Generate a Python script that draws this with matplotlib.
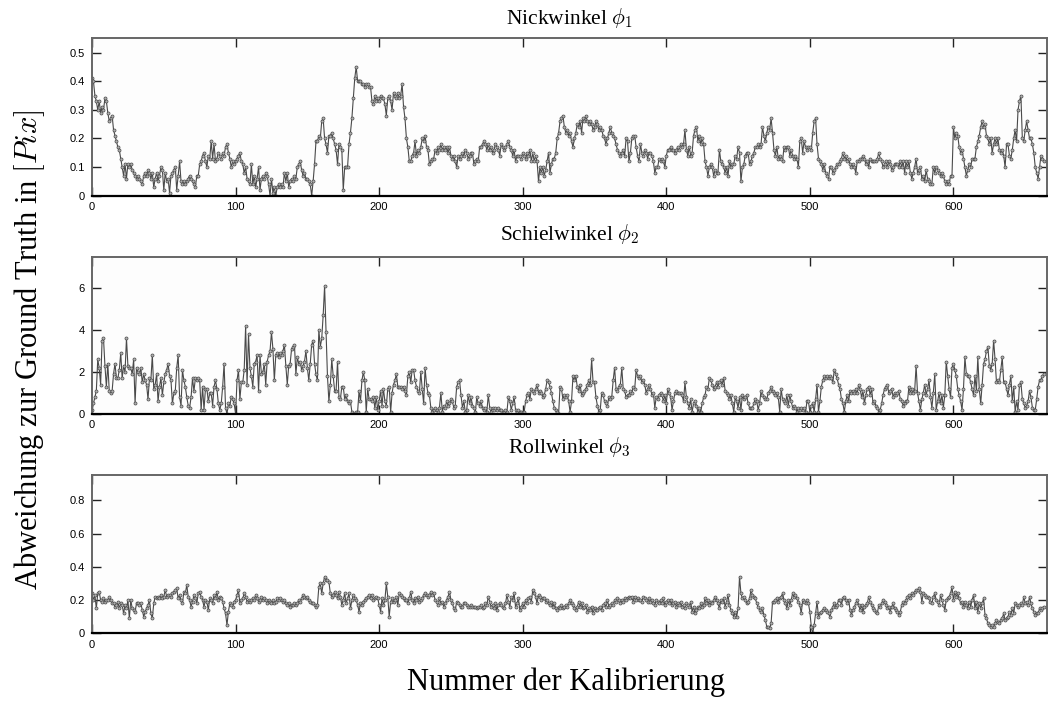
import numpy as np
import matplotlib
matplotlib.use("Agg")
from matplotlib import pyplot as plt

# Abweichung je Kalibrierung (Index 0..663)
nick = [
    0.41, 0.40, 0.35, 0.33, 0.30, 0.33, 0.29, 0.31, 0.30, 0.34,
    0.33, 0.29, 0.26, 0.27, 0.28, 0.23, 0.21, 0.19, 0.17, 0.16,
    0.13, 0.10, 0.07, 0.11, 0.06, 0.11, 0.10, 0.11, 0.09, 0.08,
    0.07, 0.06, 0.07, 0.06, 0.05, 0.04, 0.07, 0.08, 0.07, 0.09,
    0.08, 0.06, 0.08, 0.03, 0.06, 0.08, 0.05, 0.07, 0.10, 0.09,
    0.02, 0.08, 0.05, 0.06, 0.01, 0.07, 0.08, 0.09, 0.10, 0.02,
    0.07, 0.12, 0.05, 0.04, 0.05, 0.04, 0.05, 0.06, 0.07, 0.06,
    0.05, 0.04, 0.03, 0.07, 0.07, 0.11, 0.12, 0.14, 0.15, 0.12,
    0.10, 0.14, 0.13, 0.19, 0.13, 0.18, 0.12, 0.13, 0.15, 0.14,
    0.13, 0.15, 0.14, 0.17, 0.18, 0.15, 0.13, 0.10, 0.12, 0.11,
    0.12, 0.13, 0.14, 0.15, 0.12, 0.11, 0.08, 0.10, 0.06, 0.05,
    0.04, 0.11, 0.04, 0.07, 0.03, 0.06, 0.10, 0.02, 0.06, 0.07,
    0.06, 0.08, 0.07, 0.04, 0.00, 0.06, 0.01, 0.03, 0.00, 0.03,
    0.04, 0.03, 0.04, 0.03, 0.08, 0.05, 0.08, 0.03, 0.05, 0.06,
    0.05, 0.07, 0.06, 0.10, 0.11, 0.12, 0.09, 0.07, 0.08, 0.06,
    0.06, 0.05, 0.04, 0.00, 0.05, 0.11, 0.19, 0.19, 0.21, 0.20,
    0.26, 0.27, 0.20, 0.18, 0.15, 0.21, 0.21, 0.22, 0.20, 0.18,
    0.16, 0.11, 0.18, 0.17, 0.16, 0.02, 0.10, 0.10, 0.10, 0.18,
    0.22, 0.27, 0.34, 0.41, 0.45, 0.40, 0.40, 0.40, 0.39, 0.39,
    0.38, 0.39, 0.39, 0.38, 0.38, 0.33, 0.32, 0.35, 0.33, 0.34,
    0.33, 0.35, 0.34, 0.34, 0.32, 0.28, 0.34, 0.35, 0.33, 0.30,
    0.36, 0.35, 0.34, 0.36, 0.34, 0.35, 0.39, 0.31, 0.27, 0.20,
    0.17, 0.12, 0.12, 0.14, 0.15, 0.19, 0.14, 0.16, 0.15, 0.17,
    0.20, 0.19, 0.21, 0.17, 0.16, 0.11, 0.12, 0.13, 0.13, 0.16,
    0.15, 0.17, 0.16, 0.18, 0.16, 0.17, 0.16, 0.17, 0.15, 0.17,
    0.14, 0.13, 0.14, 0.12, 0.10, 0.14, 0.13, 0.14, 0.15, 0.14,
    0.16, 0.15, 0.13, 0.14, 0.15, 0.15, 0.11, 0.12, 0.13, 0.12,
    0.17, 0.17, 0.18, 0.19, 0.18, 0.16, 0.18, 0.16, 0.17, 0.15,
    0.16, 0.18, 0.17, 0.16, 0.14, 0.18, 0.17, 0.16, 0.17, 0.18,
    0.19, 0.17, 0.16, 0.14, 0.16, 0.12, 0.14, 0.14, 0.14, 0.13,
    0.15, 0.14, 0.13, 0.15, 0.14, 0.16, 0.12, 0.15, 0.12, 0.14,
    0.12, 0.05, 0.10, 0.08, 0.10, 0.07, 0.09, 0.12, 0.15, 0.08,
    0.11, 0.13, 0.13, 0.15, 0.20, 0.22, 0.26, 0.27, 0.28, 0.24,
    0.22, 0.23, 0.21, 0.22, 0.19, 0.17, 0.20, 0.22, 0.25, 0.24,
    0.26, 0.22, 0.27, 0.26, 0.28, 0.26, 0.25, 0.26, 0.25, 0.23,
    0.24, 0.26, 0.25, 0.23, 0.24, 0.23, 0.21, 0.20, 0.18, 0.20,
    0.22, 0.24, 0.22, 0.21, 0.20, 0.18, 0.16, 0.15, 0.14, 0.15,
    0.16, 0.14, 0.20, 0.19, 0.12, 0.15, 0.20, 0.21, 0.21, 0.17,
    0.14, 0.12, 0.18, 0.15, 0.14, 0.16, 0.15, 0.13, 0.15, 0.15,
    0.14, 0.12, 0.08, 0.10, 0.10, 0.13, 0.12, 0.13, 0.12, 0.10,
    0.14, 0.16, 0.16, 0.17, 0.16, 0.16, 0.15, 0.16, 0.17, 0.16,
    0.18, 0.17, 0.18, 0.23, 0.16, 0.14, 0.17, 0.14, 0.15, 0.21,
    0.23, 0.24, 0.19, 0.21, 0.18, 0.20, 0.18, 0.12, 0.10, 0.07,
    0.10, 0.11, 0.10, 0.07, 0.09, 0.08, 0.08, 0.16, 0.12, 0.11,
    0.10, 0.08, 0.10, 0.07, 0.12, 0.10, 0.11, 0.11, 0.14, 0.13,
    0.17, 0.15, 0.05, 0.10, 0.11, 0.14, 0.15, 0.15, 0.11, 0.12,
    0.14, 0.15, 0.17, 0.17, 0.18, 0.17, 0.18, 0.24, 0.21, 0.19,
    0.22, 0.24, 0.23, 0.27, 0.22, 0.16, 0.14, 0.17, 0.13, 0.14,
    0.13, 0.12, 0.17, 0.16, 0.17, 0.17, 0.14, 0.16, 0.14, 0.13,
    0.14, 0.13, 0.10, 0.19, 0.20, 0.15, 0.19, 0.17, 0.16, 0.17,
    0.17, 0.16, 0.22, 0.26, 0.27, 0.18, 0.13, 0.12, 0.11, 0.09,
    0.11, 0.08, 0.07, 0.06, 0.10, 0.10, 0.08, 0.09, 0.10, 0.11,
    0.11, 0.12, 0.13, 0.15, 0.13, 0.14, 0.12, 0.13, 0.11, 0.10,
    0.11, 0.10, 0.08, 0.12, 0.12, 0.13, 0.13, 0.14, 0.13, 0.11,
    0.12, 0.10, 0.13, 0.12, 0.12, 0.12, 0.12, 0.13, 0.15, 0.13,
    0.12, 0.10, 0.11, 0.12, 0.10, 0.12, 0.11, 0.09, 0.10, 0.11,
    0.11, 0.11, 0.10, 0.12, 0.10, 0.12, 0.08, 0.12, 0.10, 0.12,
    0.08, 0.06, 0.08, 0.10, 0.13, 0.08, 0.09, 0.10, 0.06, 0.07,
    0.05, 0.09, 0.06, 0.05, 0.04, 0.04, 0.10, 0.08, 0.10, 0.09,
    0.08, 0.07, 0.08, 0.07, 0.05, 0.04, 0.05, 0.04, 0.07, 0.07,
    0.24, 0.20, 0.22, 0.21, 0.17, 0.15, 0.16, 0.13, 0.10, 0.07,
    0.09, 0.11, 0.10, 0.13, 0.13, 0.13, 0.17, 0.19, 0.21, 0.24,
    0.26, 0.24, 0.25, 0.21, 0.20, 0.18, 0.20, 0.15, 0.18, 0.20,
    0.18, 0.20, 0.16, 0.15, 0.16, 0.14, 0.10, 0.18, 0.18, 0.14,
    0.13, 0.16, 0.20, 0.23, 0.19, 0.30, 0.33, 0.35, 0.20, 0.19,
    0.23, 0.26, 0.23, 0.20, 0.20, 0.18, 0.15, 0.10, 0.08, 0.06,
    0.10, 0.14, 0.13, 0.12,
]

schiel = [
    0.2, 0.5, 0.8, 1.1, 2.6, 2.2, 1.4, 3.5, 3.6, 2.3,
    1.3, 2.4, 1.1, 1.0, 1.1, 1.9, 2.4, 1.7, 1.7, 2.1,
    2.9, 1.7, 2.3, 2.0, 3.6, 2.3, 2.2, 2.2, 1.9, 2.6,
    0.5, 2.2, 2.0, 1.9, 2.2, 1.5, 1.9, 1.6, 1.4, 0.7,
    1.7, 1.6, 2.8, 1.2, 1.4, 1.9, 0.6, 1.3, 1.7, 0.9,
    1.5, 1.9, 2.1, 2.4, 1.8, 1.6, 0.5, 1.0, 1.1, 2.2,
    2.8, 0.8, 0.4, 2.1, 1.6, 1.3, 0.8, 0.4, 0.3, 0.8,
    1.7, 1.1, 1.7, 1.6, 1.7, 1.6, 0.2, 1.3, 0.2, 1.2,
    1.2, 0.6, 1.0, 1.0, 0.4, 1.3, 1.6, 1.2, 0.5, 0.2,
    0.5, 1.3, 2.4, 0.3, 0.0, 0.5, 0.4, 0.8, 0.7, 0.5,
    0.0, 1.6, 2.1, 0.7, 1.5, 1.5, 2.1, 4.2, 1.4, 3.8,
    2.2, 1.8, 1.3, 2.4, 2.5, 2.8, 1.1, 2.8, 1.9, 2.0,
    2.4, 1.4, 2.5, 2.8, 3.0, 3.9, 3.1, 1.6, 2.8, 2.9,
    2.7, 2.9, 2.8, 3.0, 3.3, 2.3, 1.4, 2.3, 2.4, 3.1,
    3.2, 3.3, 1.9, 2.7, 2.4, 2.5, 2.1, 2.3, 2.5, 3.0,
    2.2, 1.6, 2.4, 3.3, 3.5, 2.4, 1.9, 1.6, 4.0, 3.2,
    3.6, 4.7, 6.1, 3.9, 1.8, 0.6, 1.4, 2.6, 1.8, 1.1,
    1.1, 2.5, 0.8, 0.7, 1.3, 1.3, 0.7, 0.9, 0.6, 0.5,
    0.6, 0.1, 0.0, 0.0, 0.1, 0.1, 1.1, 0.6, 1.6, 2.0,
    1.6, 0.1, 1.2, 0.7, 0.7, 0.6, 0.8, 0.3, 0.8, 0.2,
    0.6, 1.1, 0.4, 1.2, 0.6, 0.4, 1.2, 1.3, 0.1, 1.0,
    1.4, 1.6, 1.9, 1.3, 1.3, 1.3, 1.2, 1.3, 1.1, 0.9,
    1.8, 2.0, 1.5, 2.1, 2.1, 1.6, 1.3, 1.1, 1.0, 2.0,
    1.2, 0.5, 2.2, 1.4, 1.0, 0.9, 0.3, 0.1, 0.2, 0.3,
    0.2, 0.1, 0.3, 1.0, 0.1, 0.4, 0.3, 0.6, 0.4, 0.5,
    0.7, 0.6, 0.3, 0.4, 1.3, 1.5, 1.6, 0.9, 0.3, 0.6,
    0.1, 0.2, 0.9, 0.5, 0.8, 0.4, 0.3, 0.1, 0.8, 0.5,
    0.4, 0.6, 0.3, 0.2, 0.3, 0.1, 0.9, 0.3, 0.1, 0.3,
    0.2, 0.3, 0.2, 0.3, 0.2, 0.2, 0.1, 0.1, 0.2, 0.1,
    0.8, 0.6, 0.2, 0.5, 0.8, 0.2, 0.1, 0.2, 0.1, 0.1,
    0.1, 0.1, 0.6, 0.9, 1.0, 0.7, 1.2, 1.1, 1.0, 1.2,
    1.4, 1.0, 1.1, 1.0, 0.8, 0.9, 1.2, 1.6, 1.5, 1.3,
    1.0, 0.6, 0.3, 0.2, 0.1, 0.0, 1.3, 1.2, 0.7, 0.9,
    0.8, 0.9, 0.6, 0.1, 0.6, 1.8, 1.6, 1.8, 1.3, 1.1,
    1.4, 0.9, 1.0, 1.1, 1.2, 1.4, 1.6, 1.4, 2.6, 1.5,
    1.5, 0.8, 0.4, 0.1, 0.2, 1.0, 0.9, 0.6, 0.5, 0.4,
    0.8, 0.7, 0.8, 1.6, 2.2, 1.2, 1.1, 1.3, 1.4, 2.2,
    1.2, 1.1, 0.8, 0.9, 0.9, 1.1, 1.0, 1.3, 1.2, 2.1,
    1.8, 1.7, 1.8, 1.5, 1.6, 1.4, 1.0, 1.2, 1.4, 1.2,
    0.9, 1.0, 0.3, 0.8, 0.7, 0.9, 1.0, 0.9, 0.6, 0.9,
    0.5, 1.2, 1.0, 0.8, 0.2, 0.6, 1.0, 1.1, 1.0, 1.0,
    1.0, 0.9, 0.6, 1.5, 0.8, 0.5, 0.3, 0.7, 0.1, 0.5,
    0.6, 0.4, 0.1, 0.3, 0.1, 0.5, 0.8, 0.9, 1.3, 1.2,
    1.7, 1.6, 1.4, 1.2, 1.3, 1.5, 1.3, 1.5, 1.6, 1.4,
    1.7, 1.1, 1.0, 0.9, 0.7, 0.9, 0.5, 0.1, 0.8, 0.6,
    0.3, 0.8, 0.2, 0.9, 0.7, 0.8, 0.9, 0.5, 0.3, 0.3,
    0.3, 0.5, 0.7, 0.6, 0.2, 0.5, 1.1, 0.9, 0.8, 0.7,
    0.7, 1.0, 1.1, 1.3, 1.1, 1.0, 0.9, 1.0, 0.8, 0.1,
    1.2, 0.7, 0.6, 0.5, 0.9, 0.4, 0.9, 0.6, 0.3, 0.4,
    0.3, 0.1, 0.3, 0.2, 0.3, 0.2, 0.3, 0.1, 0.6, 0.6,
    0.1, 0.4, 0.5, 0.1, 0.7, 1.4, 0.1, 0.6, 1.3, 1.6,
    1.8, 1.7, 1.8, 1.7, 1.8, 1.7, 1.5, 2.1, 1.9, 1.7,
    1.4, 1.2, 0.7, 0.5, 0.1, 0.6, 0.9, 0.6, 1.1, 1.0,
    1.1, 1.0, 1.2, 1.0, 1.4, 1.2, 0.8, 1.1, 0.5, 0.9,
    1.2, 1.3, 0.9, 1.2, 0.5, 0.6, 0.4, 0.3, 0.1, 0.2,
    0.5, 0.9, 1.2, 1.3, 1.4, 1.0, 1.1, 1.2, 0.8, 1.0,
    0.9, 1.0, 1.1, 0.7, 0.6, 0.4, 0.5, 0.6, 0.6, 1.3,
    1.0, 1.2, 1.0, 1.1, 2.3, 1.0, 0.6, 0.2, 0.7, 1.0,
    1.4, 0.9, 1.2, 1.6, 0.8, 0.3, 1.0, 1.9, 0.2, 0.6,
    1.0, 0.5, 0.9, 0.3, 0.9, 2.5, 1.8, 1.2, 0.8, 2.2,
    2.4, 2.1, 1.8, 1.2, 0.9, 0.6, 0.2, 1.2, 2.7, 1.9,
    1.8, 1.8, 1.5, 1.2, 0.9, 1.8, 1.1, 2.7, 1.2, 0.5,
    1.4, 2.4, 2.6, 3.0, 3.2, 2.3, 2.1, 2.4, 3.5, 2.6,
    1.5, 1.6, 1.5, 2.1, 2.7, 1.5, 1.5, 1.2, 0.9, 1.4,
    1.8, 0.6, 1.3, 0.1, 0.6, 0.2, 1.4, 1.5, 0.7, 0.5,
    0.3, 0.4, 0.6, 1.1, 0.8, 0.3, 0.2, 0.2, 0.7, 1.3,
    1.6, 1.6, 1.8, 1.9,
]

roll = [
    0.24, 0.20, 0.23, 0.15, 0.24, 0.25, 0.20, 0.19, 0.21, 0.19,
    0.20, 0.20, 0.22, 0.20, 0.18, 0.18, 0.16, 0.17, 0.19, 0.15,
    0.18, 0.17, 0.12, 0.17, 0.15, 0.20, 0.09, 0.20, 0.15, 0.14,
    0.13, 0.18, 0.18, 0.17, 0.18, 0.14, 0.10, 0.13, 0.15, 0.17,
    0.20, 0.12, 0.09, 0.18, 0.22, 0.21, 0.22, 0.21, 0.23, 0.21,
    0.22, 0.26, 0.22, 0.23, 0.23, 0.22, 0.24, 0.25, 0.26, 0.27,
    0.21, 0.23, 0.20, 0.18, 0.25, 0.24, 0.29, 0.22, 0.20, 0.16,
    0.19, 0.23, 0.21, 0.18, 0.24, 0.25, 0.22, 0.20, 0.16, 0.20,
    0.19, 0.14, 0.21, 0.20, 0.18, 0.23, 0.21, 0.25, 0.20, 0.22,
    0.21, 0.19, 0.15, 0.12, 0.05, 0.13, 0.18, 0.17, 0.16, 0.19,
    0.20, 0.23, 0.26, 0.18, 0.20, 0.21, 0.24, 0.22, 0.19, 0.20,
    0.19, 0.20, 0.21, 0.20, 0.23, 0.21, 0.19, 0.20, 0.22, 0.20,
    0.21, 0.20, 0.18, 0.20, 0.19, 0.18, 0.20, 0.18, 0.19, 0.21,
    0.20, 0.21, 0.20, 0.19, 0.20, 0.18, 0.17, 0.18, 0.16, 0.17,
    0.17, 0.18, 0.17, 0.18, 0.20, 0.19, 0.21, 0.23, 0.22, 0.21,
    0.22, 0.20, 0.19, 0.18, 0.18, 0.17, 0.16, 0.17, 0.28, 0.30,
    0.24, 0.30, 0.34, 0.32, 0.32, 0.31, 0.24, 0.22, 0.23, 0.25,
    0.23, 0.21, 0.25, 0.22, 0.17, 0.20, 0.24, 0.18, 0.21, 0.24,
    0.15, 0.20, 0.23, 0.21, 0.20, 0.17, 0.13, 0.18, 0.17, 0.19,
    0.20, 0.21, 0.22, 0.23, 0.21, 0.23, 0.20, 0.21, 0.22, 0.21,
    0.17, 0.13, 0.21, 0.17, 0.20, 0.30, 0.22, 0.10, 0.19, 0.21,
    0.19, 0.20, 0.22, 0.17, 0.24, 0.23, 0.22, 0.21, 0.20, 0.20,
    0.18, 0.21, 0.25, 0.20, 0.18, 0.21, 0.20, 0.22, 0.19, 0.20,
    0.21, 0.23, 0.24, 0.23, 0.22, 0.23, 0.25, 0.23, 0.24, 0.20,
    0.19, 0.17, 0.21, 0.18, 0.19, 0.16, 0.18, 0.20, 0.22, 0.25,
    0.20, 0.18, 0.15, 0.14, 0.19, 0.18, 0.17, 0.16, 0.16, 0.18,
    0.18, 0.17, 0.16, 0.16, 0.17, 0.16, 0.16, 0.16, 0.15, 0.16,
    0.16, 0.17, 0.15, 0.16, 0.18, 0.17, 0.22, 0.19, 0.16, 0.17,
    0.15, 0.18, 0.14, 0.17, 0.18, 0.17, 0.16, 0.15, 0.18, 0.23,
    0.19, 0.16, 0.22, 0.20, 0.24, 0.16, 0.18, 0.21, 0.14, 0.16,
    0.18, 0.16, 0.20, 0.18, 0.21, 0.22, 0.19, 0.26, 0.24, 0.22,
    0.18, 0.23, 0.22, 0.20, 0.21, 0.21, 0.19, 0.20, 0.18, 0.17,
    0.19, 0.16, 0.18, 0.15, 0.14, 0.16, 0.15, 0.17, 0.15, 0.16,
    0.17, 0.16, 0.18, 0.20, 0.18, 0.17, 0.15, 0.14, 0.16, 0.19,
    0.16, 0.18, 0.15, 0.16, 0.17, 0.13, 0.15, 0.14, 0.16, 0.12,
    0.15, 0.14, 0.14, 0.15, 0.16, 0.14, 0.17, 0.18, 0.16, 0.20,
    0.16, 0.17, 0.18, 0.17, 0.20, 0.19, 0.21, 0.20, 0.18, 0.20,
    0.19, 0.21, 0.20, 0.21, 0.22, 0.21, 0.22, 0.19, 0.22, 0.20,
    0.21, 0.20, 0.20, 0.19, 0.22, 0.21, 0.20, 0.19, 0.21, 0.19,
    0.20, 0.18, 0.17, 0.20, 0.19, 0.18, 0.20, 0.18, 0.21, 0.17,
    0.19, 0.20, 0.18, 0.20, 0.17, 0.18, 0.19, 0.16, 0.18, 0.17,
    0.19, 0.16, 0.17, 0.15, 0.18, 0.17, 0.16, 0.19, 0.13, 0.16,
    0.12, 0.14, 0.16, 0.15, 0.18, 0.16, 0.17, 0.21, 0.18, 0.20,
    0.17, 0.19, 0.18, 0.20, 0.22, 0.20, 0.18, 0.15, 0.20, 0.19,
    0.21, 0.16, 0.19, 0.23, 0.17, 0.14, 0.12, 0.10, 0.13, 0.10,
    0.15, 0.34, 0.24, 0.21, 0.22, 0.20, 0.18, 0.19, 0.21, 0.26,
    0.23, 0.22, 0.21, 0.18, 0.16, 0.14, 0.13, 0.15, 0.11, 0.08,
    0.04, 0.04, 0.03, 0.06, 0.19, 0.19, 0.20, 0.21, 0.19, 0.21,
    0.22, 0.24, 0.20, 0.18, 0.15, 0.20, 0.17, 0.20, 0.24, 0.22,
    0.23, 0.21, 0.19, 0.17, 0.12, 0.20, 0.19, 0.18, 0.20, 0.18,
    0.13, 0.04, 0.00, 0.05, 0.12, 0.19, 0.10, 0.12, 0.13, 0.14,
    0.15, 0.14, 0.13, 0.12, 0.10, 0.14, 0.16, 0.18, 0.16, 0.17,
    0.20, 0.20, 0.17, 0.21, 0.22, 0.20, 0.18, 0.20, 0.14, 0.11,
    0.14, 0.16, 0.18, 0.20, 0.17, 0.14, 0.17, 0.13, 0.16, 0.17,
    0.18, 0.22, 0.19, 0.17, 0.15, 0.14, 0.13, 0.12, 0.17, 0.16,
    0.18, 0.20, 0.19, 0.17, 0.15, 0.16, 0.13, 0.16, 0.18, 0.15,
    0.14, 0.13, 0.11, 0.13, 0.17, 0.19, 0.18, 0.20, 0.22, 0.23,
    0.21, 0.24, 0.23, 0.25, 0.26, 0.26, 0.27, 0.25, 0.19, 0.24,
    0.23, 0.22, 0.22, 0.21, 0.19, 0.18, 0.22, 0.24, 0.20, 0.19,
    0.17, 0.23, 0.20, 0.17, 0.14, 0.20, 0.21, 0.22, 0.24, 0.28,
    0.20, 0.25, 0.22, 0.24, 0.21, 0.18, 0.19, 0.16, 0.19, 0.17,
    0.15, 0.19, 0.16, 0.20, 0.23, 0.15, 0.19, 0.13, 0.18, 0.15,
    0.18, 0.21, 0.11, 0.09, 0.06, 0.05, 0.04, 0.05, 0.04, 0.06,
    0.08, 0.07, 0.06, 0.08, 0.09, 0.12, 0.08, 0.09, 0.10, 0.13,
    0.11, 0.15, 0.12, 0.18, 0.17, 0.16, 0.17, 0.18, 0.17, 0.22,
    0.18, 0.19, 0.17, 0.22, 0.18, 0.15, 0.13, 0.11, 0.12, 0.12,
    0.15, 0.14, 0.15, 0.16,
]

titles = [r"Nickwinkel $\phi_1$", r"Schielwinkel $\phi_2$", r"Rollwinkel $\phi_3$"]
series = [nick, schiel, roll]
ylims = [0.55, 7.5, 0.95]
yticks = [[0, 0.1, 0.2, 0.3, 0.4, 0.5], [0, 2, 4, 6], [0, 0.2, 0.4, 0.6, 0.8]]
ytick_labels = [["0", "0.1", "0.2", "0.3", "0.4", "0.5"],
                ["0", "2", "4", "6"],
                ["0", "0.2", "0.4", "0.6", "0.8"]]
xticks = [0, 100, 200, 300, 400, 500, 600]
title_pads = [10.5, 12, 16]

plt.rcParams["mathtext.fontset"] = "cm"

fig = plt.figure(figsize=(10.48, 7.04), dpi=100)
positions = [
    [0.0878, 0.722, 0.911, 0.2236],
    [0.0878, 0.412, 0.911, 0.2234],
    [0.0878, 0.1004, 0.911, 0.2244],
]

for i in range(3):
    ax = fig.add_axes(positions[i])
    ax.set_facecolor("#fdfdfd")
    y = series[i]
    x = np.arange(len(y))
    ax.plot(x, y, color="#4a4a4a", lw=0.8, marker="o", markersize=2.2,
            markerfacecolor="#b0b0b0", markeredgecolor="#4a4a4a",
            markeredgewidth=0.5)
    ax.set_xlim(0, 665)
    ax.set_ylim(0, ylims[i])
    ax.set_xticks(xticks)
    ax.set_xticklabels([str(t) for t in xticks], family="Liberation Sans", fontsize=8)
    ax.set_yticks(yticks[i])
    ax.set_yticklabels(ytick_labels[i], family="Liberation Sans", fontsize=8)
    ax.tick_params(direction="in", top=True, right=True, length=6.5, width=1.0,
                   color="#222222")
    ax.tick_params(axis="x", pad=4.5)
    ax.tick_params(axis="y", pad=5)
    for side in ["top", "left", "right"]:
        ax.spines[side].set_color("#666666")
        ax.spines[side].set_linewidth(1.4)
    ax.spines["bottom"].set_color("black")
    ax.spines["bottom"].set_linewidth(1.6)
    ax.set_title(titles[i], family="Liberation Serif", fontsize=15.5, pad=title_pads[i])

fig.text(0.54, 0.031, "Nummer der Kalibrierung", family="Liberation Serif",
         fontsize=22, ha="center", va="center")
fig.text(0.028, 0.503, r"Abweichung zur Ground Truth in $[Pix]$",
         family="Liberation Serif", fontsize=22, rotation=90,
         ha="center", va="center")

fig.savefig("out.png", dpi=100)
